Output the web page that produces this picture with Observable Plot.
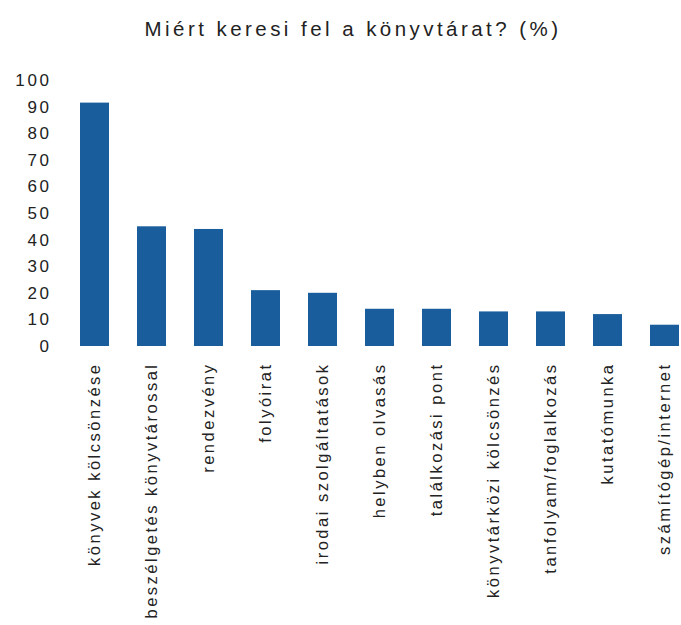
<!DOCTYPE html>
<html><head><meta charset="utf-8">
<script src="https://cdn.jsdelivr.net/npm/d3@7"></script>
<script src="https://cdn.jsdelivr.net/npm/@observablehq/plot@0.6"></script>
<style>
body{margin:0;background:#fff;font-family:"Liberation Sans",Arial,sans-serif;}
#title{height:50px;width:681px;text-align:center;font-size:20.5px;line-height:20px;padding-top:19px;padding-left:25px;box-sizing:border-box;color:#222;letter-spacing:3.45px;}
svg{overflow:hidden;}
</style></head>
<body>
<div id="title">Miért keresi fel a könyvtárat? (%)</div>
<div id="chart"></div>
<script>
const categories = ["könyvek kölcsönzése","beszélgetés könyvtárossal","rendezvény","folyóirat","irodai szolgáltatások","helyben olvasás","találkozási pont","könyvtárközi kölcsönzés","tanfolyam/foglalkozás","kutatómunka","számítógép/internet"];
const values = [91.5,45,44,21,20,14,14,13,13,12,8];
const yTicks = [0,10,20,30,40,50,60,70,80,90,100];
const data = categories.map((c,i)=>({c, v: values[i]}));
const chart = Plot.plot({
  width: 681, height: 575,
  marginTop: 30, marginBottom: 279, marginLeft: 52, marginRight: 0,
  style: {fontFamily: "Liberation Sans, Arial, sans-serif", fontSize: "17px", color: "#222", background: "#fff"},
  x: {domain: categories, range: [49, 710], paddingInner: 0.5, paddingOuter: 0.5, label: null},
  y: {domain: [0, 100], label: null},
  marks: [
    Plot.barY(data, {x: "c", y: "v", fill: "#1a5d9c"}),
    Plot.axisY({ticks: yTicks, tickSize: 0, tickPadding: 1, label: null, fontSize: 17}),
    Plot.axisX({tickSize: 0, tickPadding: 16, tickRotate: -90, label: null, fontSize: 16.5})
  ]
});
d3.select(chart).selectAll('g[aria-label="x-axis tick label"] text').style("letter-spacing", "2.5px");
d3.select(chart).selectAll('g[aria-label="y-axis tick label"] text').style("letter-spacing", "2.6px");
document.getElementById("chart").appendChild(chart);
</script>
</body></html>
